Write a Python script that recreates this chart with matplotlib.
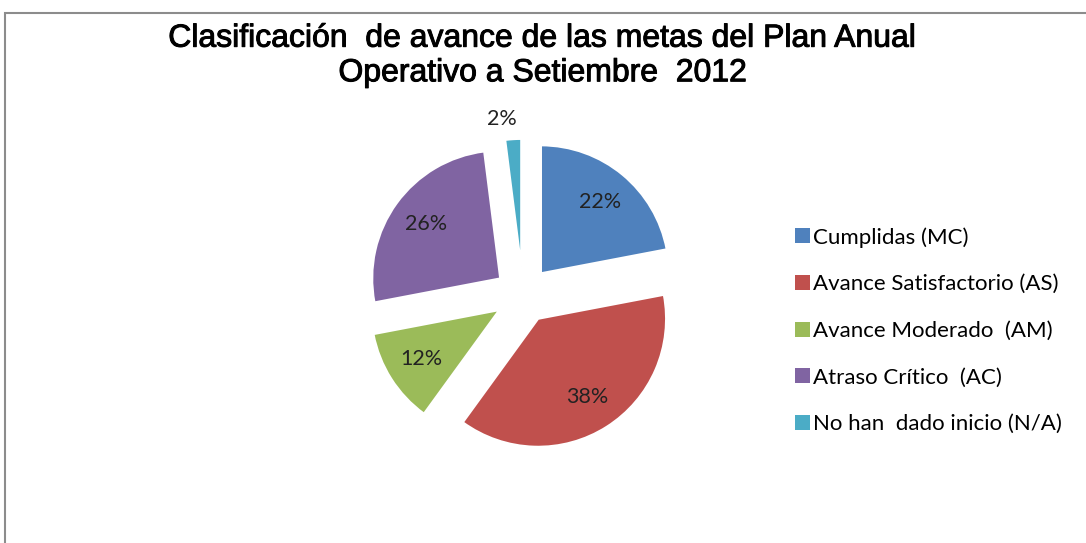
import matplotlib
matplotlib.use("Agg")
import matplotlib.pyplot as plt
from matplotlib.patches import Rectangle
import matplotlib.patheffects as pe
import numpy as np

categories = ["Cumplidas (MC)", "Avance Satisfactorio (AS)", "Avance Moderado  (AM)",
              "Atraso Crítico  (AC)", "No han  dado inicio (N/A)"]
values = [22, 38, 12, 26, 2]
colors = ["#4F81BD", "#C0504D", "#9BBB59", "#8064A2", "#4BACC6"]
title = "Clasificación  de avance de las metas del Plan Anual\nOperativo a Setiembre  2012"

W, H = 1086, 543
fig = plt.figure(figsize=(W / 100, H / 100), dpi=100)
fig.patch.set_facecolor("white")

# outer frame
fig.patches.append(Rectangle((5 / W, -0.02), 1.1, 1 - 13 / H + 0.02,
                             transform=fig.transFigure, fill=False,
                             edgecolor="#8c8c8c", linewidth=1.5))

# pie axes: radius 1 == 128 px, centre at (523, 295) px
R = 128
L = 1.45
cx, cy = 523, 295
ax = fig.add_axes([(cx - L * R) / W, (H - cy - L * R) / H, 2 * L * R / W, 2 * L * R / H])

wedges, texts, autotexts = ax.pie(
    values, colors=colors, startangle=90, counterclock=False,
    explode=[0.22] * len(values), radius=1.0,
    autopct=lambda p: f"{p:.0f}%", pctdistance=0.72,
    wedgeprops=dict(edgecolor="white", linewidth=1.5),
    textprops=dict(fontsize=15.5, family="Lato", color="#222222"))
ax.set_xlim(-L, L)
ax.set_ylim(-L, L)
ax.set_aspect("auto")
ax.axis("off")

# small slice label outside the pie
w = wedges[-1]
mid = np.deg2rad((w.theta1 + w.theta2) / 2)
autotexts[-1].set_position((1.38 * np.cos(mid) - 0.08, 1.38 * np.sin(mid)))

fig.text(0.5, 1 - 56 / H, title, ha="center", va="center", fontsize=23,
         family="Liberation Sans", fontweight="normal", linespacing=1.2,
         path_effects=[pe.withStroke(linewidth=0.7, foreground="black")])

leg = fig.legend(wedges, categories, loc="upper left",
                 bbox_to_anchor=(795 / W, 1 - 227 / H), frameon=False,
                 prop=dict(family="Lato", size=16), handlelength=0.68,
                 handleheight=0.68, handletextpad=0.12, labelspacing=1.2,
                 borderpad=0, borderaxespad=0)
for h in leg.legend_handles:
    h.set_edgecolor("none")

fig.savefig("out.png", dpi=100)
